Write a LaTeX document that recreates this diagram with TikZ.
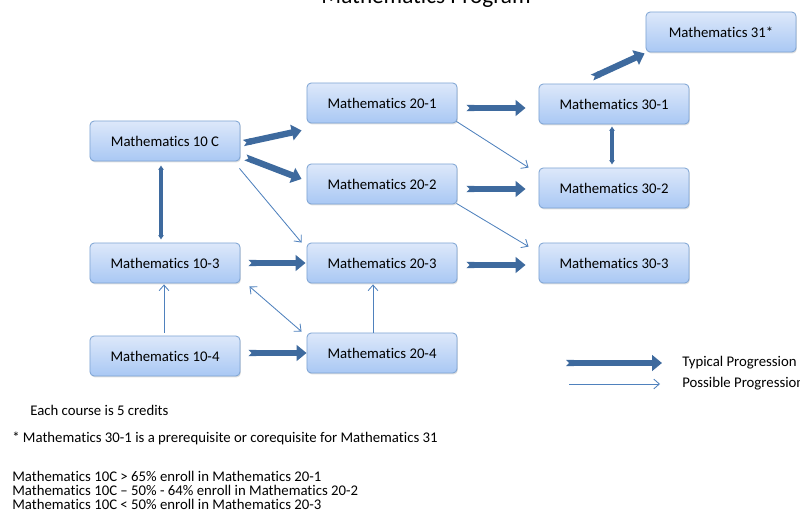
\documentclass[tikz,border=0pt]{standalone}
\usepackage{fontspec}
\setmainfont{Carlito}[Ligatures=NoCommon]
\usepackage{tikz}
\usetikzlibrary{arrows.meta,shadows}

\definecolor{boxtop}{HTML}{DDE8FA}
\definecolor{boxbot}{HTML}{A9C8F4}
\definecolor{boxline}{HTML}{7EA4D3}
\definecolor{typblue}{HTML}{3E6A9E}
\definecolor{posblue}{HTML}{4F81BD}

\begin{document}
\begin{tikzpicture}[x=0.025cm,y=-0.025cm,
	course/.style={draw=boxline, line width=0.6pt, rounded corners=3pt, top color=boxtop, bottom color=boxbot,
		minimum width=3.75cm, minimum height=1cm, font=\fontsize{10.5}{12}\selectfont,
		drop shadow={shadow xshift=0.6pt, shadow yshift=-1pt, opacity=0.25}},
	typical/.style={typblue, line width=4.5pt, {Triangle Cap[reversed]}-{Triangle[length=7pt,width=11pt]}},
	twoway/.style={typblue, line width=2.2pt, {Latex[length=3pt,width=4.5pt]}-{Latex[length=3pt,width=4.5pt]}},
	possible/.style={posblue, line width=0.6pt, -{Straight Barb[length=4pt,width=7pt]}},
	note/.style={inner sep=0pt, font=\fontsize{10.5}{12}\selectfont}]
\useasboundingbox (0,0) rectangle (800,512);

\node[anchor=base, font=\fontsize{16.5}{18}\selectfont] (title) at (426,4) {Mathematics Program}; % title, cut at top

% courses
\node[course] (m10c) at (165,141) {Mathematics 10 C};
\node[course] (m103) at (165,263) {Mathematics 10-3};
\node[course] (m104) at (165,356) {Mathematics 10-4};
\node[course] (m201) at (382,103) {Mathematics 20-1};
\node[course] (m202) at (382,184) {Mathematics 20-2};
\node[course] (m203) at (382,263) {Mathematics 20-3};
\node[course] (m204) at (382,353) {Mathematics 20-4};
\node[course] (m301) at (614,104) {Mathematics 30-1};
\node[course] (m302) at (614,188) {Mathematics 30-2};
\node[course] (m303) at (614,263) {Mathematics 30-3};
\node[course] (m31) at (721,32) {Mathematics 31*};

% typical progression
\draw[typical] ([shift={(3,2)}]m10c.east) -- ([shift={(-5,7)}]m201.south west);
\draw[typical] ([shift={(5,-4)}]m10c.south east) -- ([shift={(-5,-5)}]m202.west);
\draw[typical] ([shift={(8,0)}]m103.east) -- ([shift={(-1,0)}]m203.west);
\draw[typical] ([shift={(8,-3)}]m104.east) -- (m204.west);
\draw[typical] ([shift={(9,5)}]m201.east) -- ([shift={(-13,4)}]m301.west);
\draw[typical] ([shift={(9,5)}]m202.east) -- ([shift={(-13,1)}]m302.west);
\draw[typical] ([shift={(9,2)}]m203.east) -- ([shift={(-13,2)}]m303.west);
\draw[typical] ([shift={(-22,-6)}]m301.north) -- ([shift={(-1,1)}]m31.south west);
\draw[twoway] ([shift={(-4,4)}]m10c.south) -- ([shift={(-4,-3)}]m103.north);
\draw[twoway] ([shift={(-2,2)}]m301.south) -- ([shift={(-2,-3)}]m302.north);

% possible progression
\draw[possible] ([shift={(-1,7)}]m10c.south east) -- ([shift={(-5,0)}]m203.north west);
\draw[possible] ([shift={(-1,-2)}]m201.south east) -- ([shift={(-10,0)}]m302.north west);
\draw[possible] ([shift={(-1,-1)}]m202.south east) -- ([shift={(-10,4)}]m303.north west);
\draw[possible] ([shift={(-1,-3)}]m104.north) -- ([shift={(-1,1)}]m103.south);
\draw[possible] ([shift={(-9,0)}]m204.north) -- ([shift={(-9,1)}]m203.south);
\draw[possible, {Straight Barb[length=4pt,width=7pt]}-{Straight Barb[length=4pt,width=7pt]}] ([shift={(9,3)}]m103.south east) -- ([shift={(-5,-1)}]m204.north west);

% legend
\coordinate (typA) at (566,363);
\coordinate (typB) at (662,363);
\coordinate (posA) at (569,384);
\coordinate (posB) at (660,384);
\draw[typical] (typA) -- (typB);
\draw[possible] (posA) -- (posB);
\node[note, anchor=west] (typtxt) at (682,363) {Typical Progression};
\node[note, anchor=west] (postxt) at (682,384) {Possible Progression};

% notes
\node[note, anchor=base west] (credits) at (30,415) {Each course is 5 credits};
\node[note, anchor=base west] (star) at (12,442) {* Mathematics 30-1 is a prerequisite or corequisite for Mathematics 31};
\node[note, anchor=base west] (enrollA) at (12,481) {Mathematics 10C > 65\% enroll in Mathematics 20-1};
\node[note, anchor=base west] (enrollB) at (12,495) {Mathematics 10C – 50\% - 64\% enroll in Mathematics 20-2};
\node[note, anchor=base west] (enrollC) at (12,509) {Mathematics 10C < 50\% enroll in Mathematics 20-3};
\end{tikzpicture}
\end{document}
